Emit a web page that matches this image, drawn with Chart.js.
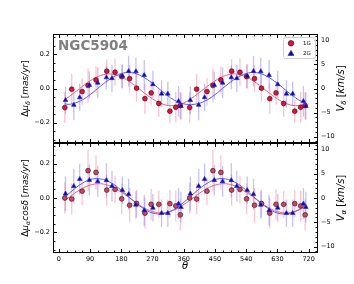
<!DOCTYPE html>
<html><head><meta charset="utf-8">
<script src="https://cdn.jsdelivr.net/npm/chart.js@4.4.1/dist/chart.umd.min.js"></script>
<style>
html,body{margin:0;padding:0;background:#fff;overflow:hidden}
#wrap{position:relative;width:354px;height:284px}
canvas{position:absolute;left:0;top:0}
</style></head>
<body><div id="wrap"><canvas id="cTop" width="354" height="284"></canvas><canvas id="cBot" width="354" height="284"></canvas></div>
<script>
// ---------------- data ----------------
const xTicks = [0, 90, 180, 270, 360, 450, 540, 630, 720];
const muTicks = [-0.2, 0.0, 0.2];
const vTicks = [-10, -5, 0, 5, 10];
const groupLabels = ['1G', '2G'];

const theta1G = [17,37,67,84,107,138,162,181,204,224,248,266,288,320,337,350,
                 377,397,427,444,467,498,522,541,564,584,608,626,648,680,697,710];
const theta2G = [19,43,60,88,112,137,153,183,201,222,246,271,296,314,345,352,
                 379,403,420,448,472,497,513,543,561,582,606,631,656,674,705,712];

const muDelta1G = [-0.112,-0.004,-0.018,0.018,0.050,0.102,0.096,0.070,0.058,0.002,-0.060,-0.026,-0.088,-0.133,-0.110,-0.100,
                   -0.112,-0.004,-0.018,0.018,0.050,0.102,0.096,0.070,0.058,0.002,-0.060,-0.026,-0.088,-0.133,-0.110,-0.100];
const muDelta1GErr = [0.09,0.09,0.08,0.10,0.08,0.07,0.08,0.07,0.08,0.08,0.09,0.07,0.08,0.07,0.09,0.08,
                      0.09,0.09,0.08,0.10,0.08,0.07,0.08,0.07,0.08,0.08,0.09,0.07,0.08,0.07,0.09,0.08];
const muDelta2G = [-0.069,-0.097,-0.052,0.020,0.033,0.065,0.060,0.072,0.102,0.100,0.078,0.024,-0.031,-0.031,-0.075,-0.104,
                   -0.069,-0.097,-0.052,0.020,0.033,0.065,0.060,0.072,0.102,0.100,0.078,0.024,-0.031,-0.031,-0.075,-0.104];
const muDelta2GErr = [0.08,0.09,0.08,0.08,0.09,0.07,0.08,0.07,0.09,0.08,0.09,0.08,0.08,0.07,0.09,0.08,
                      0.08,0.09,0.08,0.08,0.09,0.07,0.08,0.07,0.09,0.08,0.09,0.08,0.08,0.07,0.09,0.08];

const muAlpha1G = [0.000,-0.006,0.040,0.159,0.149,0.046,0.050,-0.005,-0.042,-0.032,-0.088,-0.037,-0.037,-0.033,-0.046,-0.098,
                   0.000,-0.006,0.040,0.159,0.149,0.046,0.050,-0.005,-0.042,-0.032,-0.088,-0.037,-0.037,-0.033,-0.046,-0.098];
const muAlpha1GErr = [0.09,0.09,0.08,0.12,0.10,0.09,0.08,0.09,0.10,0.08,0.09,0.09,0.08,0.08,0.09,0.09,
                      0.09,0.09,0.08,0.12,0.10,0.09,0.08,0.09,0.10,0.08,0.09,0.09,0.08,0.08,0.09,0.09];
const muAlpha2G = [0.025,0.069,0.110,0.104,0.097,0.103,0.069,0.045,0.022,-0.040,-0.072,-0.057,-0.088,-0.088,-0.033,-0.053,
                   0.025,0.069,0.110,0.104,0.097,0.103,0.069,0.045,0.022,-0.040,-0.072,-0.057,-0.088,-0.088,-0.033,-0.053];
const muAlpha2GErr = [0.10,0.10,0.09,0.09,0.09,0.10,0.09,0.08,0.09,0.08,0.09,0.08,0.08,0.08,0.09,0.09,
                      0.10,0.10,0.09,0.09,0.09,0.10,0.09,0.08,0.09,0.08,0.09,0.08,0.08,0.08,0.09,0.09];

// fitted curves
const fitTheta = [17,30,60,90,120,150,180,210,240,270,300,330,360,390,420,450,480,510,540,570,600,630,660,690,712];
const fitDelta1G = [-0.065,-0.047,0.000,0.045,0.076,0.085,0.068,0.031,-0.016,-0.061,-0.092,-0.101,-0.084,
                    -0.047,0.000,0.045,0.076,0.085,0.068,0.031,-0.016,-0.061,-0.092,-0.101,-0.091];
const fitDelta2G = [-0.090,-0.093,-0.075,-0.036,0.014,0.059,0.088,0.093,0.071,0.030,-0.020,-0.065,-0.090,
                    -0.093,-0.075,-0.036,0.014,0.059,0.088,0.093,0.071,0.030,-0.020,-0.065,-0.087];
const fitAlpha1G = [-0.014,0.005,0.047,0.075,0.083,0.068,0.034,-0.009,-0.051,-0.079,-0.087,-0.072,-0.038,
                    0.005,0.047,0.075,0.083,0.068,0.034,-0.009,-0.051,-0.079,-0.087,-0.072,-0.048];
const fitAlpha2G = [0.005,0.028,0.076,0.107,0.111,0.089,0.045,-0.008,-0.056,-0.087,-0.091,-0.069,-0.025,
                    0.028,0.076,0.107,0.111,0.089,0.045,-0.008,-0.056,-0.087,-0.091,-0.069,-0.038];

// ---------------- styling / layout ----------------
const X_MIN = -17, X_MAX = 747;
const MU_MIN = -0.32, MU_MAX = 0.32;
const KMS_PER_MAS = 35.4;
const LEFT_W = 53, RIGHT_W = 36;
const TICK_FONT = {family: 'DejaVu Sans', size: 6.5};

const RED = '#dc143c', RED_LINE = '#f0607e', RED_ERR = 'rgba(235,90,120,0.35)';
const BLUE = '#101080', BLUE_LINE = '#5a5af0', BLUE_ERR = 'rgba(80,80,235,0.35)';

const pts = (xs, ys) => xs.map((x, i) => ({x, y: ys[i]}));
const fmtMu = v => (v < 0 ? '\u2212' : '') + Math.abs(v).toFixed(1);
const fmtV = v => (v < 0 ? '\u2212' : '') + Math.abs(v);

function drawRich(ctx, segs, cx, cy, rot, size) {
  ctx.save();
  ctx.translate(cx, cy);
  ctx.rotate(rot);
  const fontOf = s => `${s.it ? 'italic ' : ''}${s.sub ? size * 0.7 : size}px "DejaVu Sans"`;
  let total = 0;
  const m = segs.map(s => { ctx.font = fontOf(s); const w = ctx.measureText(s.t).width; total += w; return w; });
  let x = -total / 2;
  ctx.fillStyle = '#000';
  ctx.textBaseline = 'alphabetic';
  ctx.textAlign = 'left';
  segs.forEach((s, i) => {
    ctx.font = fontOf(s);
    ctx.fillText(s.t, x, size * 0.36 + (s.sub ? size * 0.22 : 0));
    x += m[i];
  });
  ctx.restore();
}

function makeDecor(cfg) {
  return {
    id: 'decor_' + cfg.name,
    beforeDatasetsDraw(chart) {
      const {ctx, chartArea: a, scales} = chart;
      ctx.save();
      ctx.beginPath(); ctx.rect(a.left, a.top, a.right - a.left, a.bottom - a.top); ctx.clip();
      cfg.err.forEach(e => {
        const ds = chart.data.datasets[e.ds];
        ctx.strokeStyle = e.color; ctx.lineWidth = 1.3;
        ds.data.forEach((p, i) => {
          const x = scales.x.getPixelForValue(p.x);
          ctx.beginPath();
          ctx.moveTo(x, scales.y.getPixelForValue(p.y - e.err[i]));
          ctx.lineTo(x, scales.y.getPixelForValue(p.y + e.err[i]));
          ctx.stroke();
        });
      });
      ctx.restore();
    },
    afterDraw(chart) {
      const {ctx, chartArea: a, scales} = chart;
      const L = Math.round(a.left) + 0.5, R = Math.round(a.right) - 0.5;
      const T = Math.round(a.top) + 0.5, B = Math.round(a.bottom) - 0.5;
      ctx.save();
      ctx.strokeStyle = '#000'; ctx.lineWidth = 1;
      ctx.strokeRect(L, T, R - L, B - T);
      const tick = (x1, y1, x2, y2) => { ctx.beginPath(); ctx.moveTo(x1, y1); ctx.lineTo(x2, y2); ctx.stroke(); };
      for (let v = 0; v <= 720; v += 22.5) {
        const major = v % 90 === 0;
        const len = major ? 3.5 : 2;
        const x = Math.round(scales.x.getPixelForValue(v)) + 0.5;
        tick(x, B, x, B - len); tick(x, T, x, T + len);
      }
      for (let k = -6; k <= 6; k++) {
        const vv = k * 0.05;
        const major = k % 4 === 0;
        const y = Math.round(scales.y.getPixelForValue(vv)) + 0.5;
        tick(L, y, L + (major ? 3.5 : 2), y);
      }
      for (let v = -11; v <= 11; v += 1) {
        const major = v % 5 === 0;
        const y = Math.round(scales.y2.getPixelForValue(v)) + 0.5;
        tick(R, y, R - (major ? 3.5 : 2), y);
      }
      ctx.restore();
      const cy = (a.top + a.bottom) / 2;
      drawRich(ctx, cfg.leftLabel, 25, cy, -Math.PI / 2, 9);
      drawRich(ctx, cfg.rightLabel, 340, cy, -Math.PI / 2, 10);
      if (cfg.xTitle) drawRich(ctx, [{t: '\u03b8', it: true}], 185, 265, 0, 10);
      if (cfg.title) {
        ctx.save();
        ctx.font = 'bold 13.5px "DejaVu Sans"';
        ctx.fillStyle = '#808080';
        ctx.textBaseline = 'alphabetic';
        ctx.fillText(cfg.title, 58, 50);
        ctx.restore();
      }
      if (cfg.legend) {
        ctx.save();
        const bx = 283.5, by = 37.5, bw = 32, bh = 21, r = 2;
        ctx.beginPath();
        ctx.moveTo(bx + r, by); ctx.arcTo(bx + bw, by, bx + bw, by + bh, r); ctx.arcTo(bx + bw, by + bh, bx, by + bh, r);
        ctx.arcTo(bx, by + bh, bx, by, r); ctx.arcTo(bx, by, bx + bw, by, r); ctx.closePath();
        ctx.fillStyle = 'rgba(255,255,255,0.8)'; ctx.fill();
        ctx.strokeStyle = '#d0d0d0'; ctx.lineWidth = 1; ctx.stroke();
        ctx.beginPath(); ctx.arc(291, 43.3, 2.8, 0, Math.PI * 2);
        ctx.fillStyle = RED; ctx.fill(); ctx.strokeStyle = '#400010'; ctx.lineWidth = 0.6; ctx.stroke();
        ctx.beginPath(); ctx.moveTo(291, 50.3); ctx.lineTo(294, 55.5); ctx.lineTo(288, 55.5); ctx.closePath();
        ctx.fillStyle = BLUE; ctx.fill(); ctx.strokeStyle = '#2020ff'; ctx.stroke();
        ctx.fillStyle = '#000'; ctx.font = '5.5px "DejaVu Sans"'; ctx.textBaseline = 'middle'; ctx.textAlign = 'center';
        ctx.fillText(groupLabels[0], 307, 43.5);
        ctx.fillText(groupLabels[1], 307, 53.5);
        ctx.restore();
      }
    }
  };
}

function makePanel(id, cfg) {
  const datasets = [
    {type: 'scatter', label: groupLabels[0], data: pts(cfg.t1, cfg.y1), pointStyle: 'circle', pointRadius: 2.4,
     backgroundColor: cfg.red, borderColor: '#3a0010', borderWidth: 0.6, order: 1},
    {type: 'scatter', label: groupLabels[1], data: pts(cfg.t2, cfg.y2), pointStyle: 'triangle', pointRadius: 2.7,
     backgroundColor: BLUE, borderColor: '#2020ff', borderWidth: 0.6, order: 0},
    {type: 'line', label: 'fit 1G', data: pts(fitTheta, cfg.f1), borderColor: RED_LINE, borderWidth: 1,
     pointRadius: 0, tension: 0.4, fill: false, order: 3},
    {type: 'line', label: 'fit 2G', data: pts(fitTheta, cfg.f2), borderColor: BLUE_LINE, borderWidth: 1,
     pointRadius: 0, tension: 0.4, fill: false, order: 2}
  ];
  return new Chart(document.getElementById(id), {
    data: {datasets},
    options: {
      responsive: false, animation: false, events: [],
      layout: {padding: {top: cfg.padTop, bottom: cfg.padBottom, left: 0, right: 0}},
      plugins: {legend: {display: false}, tooltip: {enabled: false}},
      scales: {
        x: {type: 'linear', min: X_MIN, max: X_MAX, display: cfg.showX,
            grid: {display: false, drawTicks: false}, border: {display: false},
            ticks: {font: TICK_FONT, color: '#000', padding: 2.5, maxRotation: 0, autoSkip: false, callback: v => v},
            afterBuildTicks: s => { s.ticks = xTicks.map(v => ({value: v})); },
            afterFit: s => { s.height = cfg.showX ? 31 : 0; }},
        y: {type: 'linear', position: 'left', min: MU_MIN, max: MU_MAX,
            grid: {display: false, drawTicks: false}, border: {display: false},
            ticks: {font: TICK_FONT, color: '#000', padding: 3, callback: fmtMu},
            afterBuildTicks: s => { s.ticks = muTicks.map(v => ({value: v})); },
            afterFit: s => { s.width = LEFT_W; }},
        y2: {type: 'linear', position: 'right', min: MU_MIN * KMS_PER_MAS, max: MU_MAX * KMS_PER_MAS,
            grid: {display: false, drawTicks: false}, border: {display: false},
            ticks: {font: TICK_FONT, color: '#000', padding: 3, callback: fmtV},
            afterBuildTicks: s => { s.ticks = vTicks.map(v => ({value: v})); },
            afterFit: s => { s.width = RIGHT_W; }}
      }
    },
    plugins: [makeDecor(cfg)]
  });
}

makePanel('cTop', {
  name: 'top', t1: theta1G, y1: muDelta1G, t2: theta2G, y2: muDelta2G, f1: fitDelta1G, f2: fitDelta2G,
  red: RED, padTop: 34, padBottom: 141, showX: false, title: 'NGC5904', legend: true,
  err: [{ds: 0, err: muDelta1GErr, color: RED_ERR}, {ds: 1, err: muDelta2GErr, color: BLUE_ERR}],
  leftLabel: [{t: '\u0394'}, {t: '\u03bc', it: true}, {t: '\u03b4', it: true, sub: true}, {t: ' [', it: false}, {t: 'mas/yr', it: true}, {t: ']'}],
  rightLabel: [{t: 'V', it: true}, {t: '\u03b4', it: true, sub: true}, {t: ' ['}, {t: 'km/s', it: true}, {t: ']'}]
});
makePanel('cBot', {
  name: 'bot', t1: theta1G, y1: muAlpha1G, t2: theta2G, y2: muAlpha2G, f1: fitAlpha1G, f2: fitAlpha2G,
  red: '#c64a5c', padTop: 143, padBottom: 0, showX: true, xTitle: true,
  err: [{ds: 0, err: muAlpha1GErr, color: RED_ERR}, {ds: 1, err: muAlpha2GErr, color: BLUE_ERR}],
  leftLabel: [{t: '\u0394'}, {t: '\u03bc', it: true}, {t: '\u03b1', it: true, sub: true}, {t: 'cos\u03b4', it: true}, {t: ' ['}, {t: 'mas/yr', it: true}, {t: ']'}],
  rightLabel: [{t: 'V', it: true}, {t: '\u03b1', it: true, sub: true}, {t: ' ['}, {t: 'km/s', it: true}, {t: ']'}]
});
</script>
</body></html>
